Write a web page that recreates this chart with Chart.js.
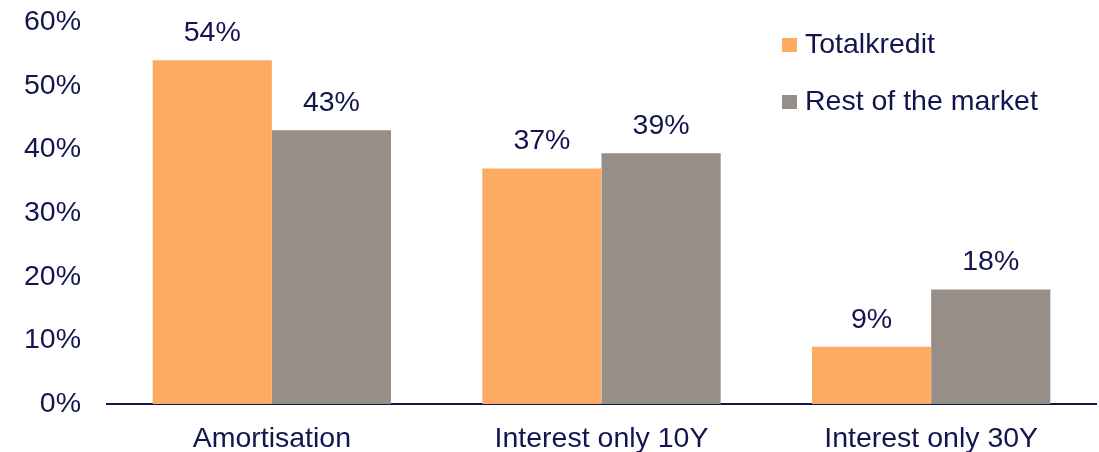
<!DOCTYPE html>
<html lang="en">
<head>
    <meta charset="UTF-8">
    <title>Totalkredit vs rest of the market</title>
    <script src="https://cdn.jsdelivr.net/npm/chart.js"></script>
    <style>
        html, body { margin: 0; padding: 0; background: #ffffff; }
        #wrap { width: 1099px; height: 452px; }
    </style>
</head>
<body>
    <div id="wrap"><canvas id="myChart" width="1099" height="452"></canvas></div>
    <script>
        const categories = [ 'Amortisation', 'Interest only 10Y', 'Interest only 30Y' ];
        const totalkredit = [ 54, 37, 9 ];
        const restOfMarket = [ 43, 39.4, 18 ];
        const yTicks = [ 0, 10, 20, 30, 40, 50, 60 ];

        const navy = '#14144f';
        const orange = '#fdab62';
        const grey = '#968e87';
        const font = { family: "'Liberation Sans', Arial, sans-serif", size: 28.5 };

        // value labels above each bar
        const valueLabels = {
            id: 'valueLabels',
            afterDatasetsDraw( chart ) {
                const ctx = chart.ctx;
                ctx.save();
                ctx.fillStyle = navy;
                ctx.font = `${ font.size }px ${ font.family }`;
                ctx.textAlign = 'center';
                ctx.textBaseline = 'middle';
                chart.data.datasets.forEach( ( ds, i ) => {
                    chart.getDatasetMeta( i ).data.forEach( ( bar, j ) => {
                        ctx.fillText( Math.round( ds.data[ j ] ) + '%', bar.x, bar.y - 27 );
                    } );
                } );
                ctx.restore();
            }
        };

        // legend drawn inside the plot, top right
        const insideLegend = {
            id: 'insideLegend',
            afterDraw( chart ) {
                const ctx = chart.ctx;
                ctx.save();
                ctx.font = `${ font.size }px ${ font.family }`;
                ctx.textBaseline = 'middle';
                chart.data.datasets.forEach( ( ds, i ) => {
                    const y = 45 + i * 57;
                    ctx.fillStyle = ds.backgroundColor;
                    ctx.fillRect( 782, y - 7, 15, 14 );
                    ctx.fillStyle = navy;
                    ctx.fillText( ds.label, 805, y );
                } );
                ctx.restore();
            }
        };

        const ctx = document.getElementById( 'myChart' ).getContext( '2d' );
        const myChart = new Chart( ctx, {
            type: 'bar',
            data: {
                labels: categories,
                datasets: [
                    { label: 'Totalkredit', data: totalkredit, backgroundColor: orange },
                    { label: 'Rest of the market', data: restOfMarket, backgroundColor: grey }
                ]
            },
            options: {
                responsive: false,
                animation: false,
                devicePixelRatio: 1,
                layout: { padding: { top: 22, right: 3, bottom: 0, left: 0 } },
                datasets: { bar: { categoryPercentage: 0.723, barPercentage: 1 } },
                plugins: {
                    legend: { display: false },
                    tooltip: { enabled: false }
                },
                scales: {
                    x: {
                        grid: { display: false, drawTicks: false },
                        border: { display: true, color: navy, width: 2 },
                        ticks: { color: navy, font: font, padding: 18, maxRotation: 0 },
                        afterFit: ( scale ) => {
                            scale.height = 48;
                            scale.paddingLeft = 0;
                            scale.paddingRight = 0;
                        }
                    },
                    y: {
                        min: 0,
                        max: 60,
                        grid: { display: false, drawTicks: false },
                        border: { display: false },
                        afterBuildTicks: ( scale ) => { scale.ticks = yTicks.map( v => ( { value: v } ) ); },
                        ticks: { color: navy, font: font, padding: 26, callback: v => v + '%' },
                        afterFit: ( scale ) => {
                            scale.width = 107;
                            scale.paddingTop = 0;
                            scale.paddingBottom = 0;
                        }
                    }
                }
            },
            plugins: [ valueLabels, insideLegend ]
        } );
    </script>
</body>
</html>
